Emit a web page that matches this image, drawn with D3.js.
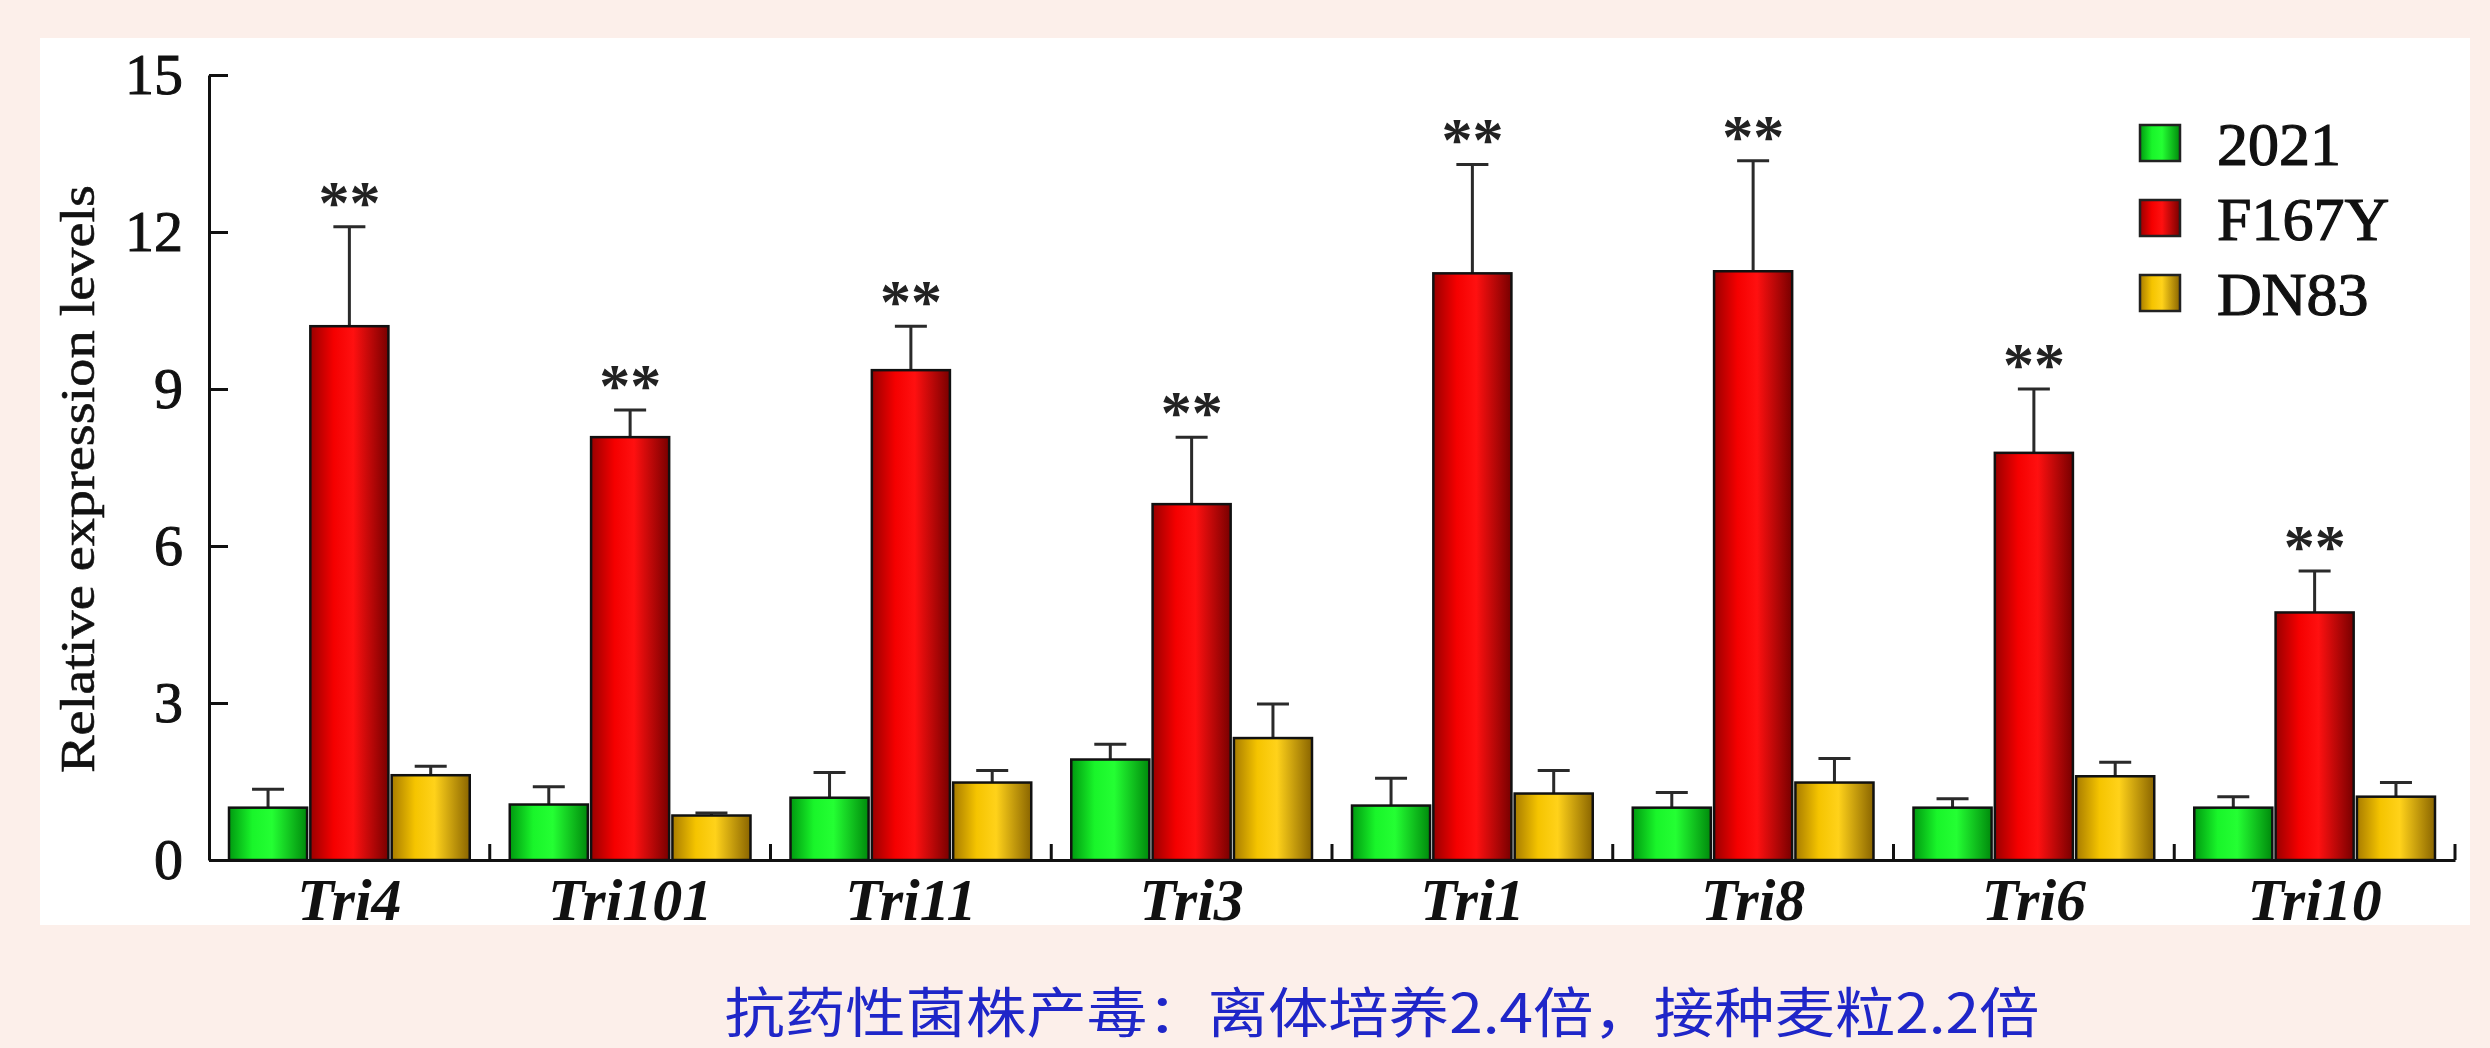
<!DOCTYPE html>
<html>
<head>
<meta charset="utf-8">
<script src="https://cdn.jsdelivr.net/npm/d3@7"></script>
<style>
  html, body { margin: 0; padding: 0; background: #fcefea; }
  svg { display: block; }
</style>
</head>
<body>
<div id="chart"></div>
<script>
// genes on the x axis, strains in the legend
var genes = ["Tri4", "Tri101", "Tri11", "Tri3", "Tri1", "Tri8", "Tri6", "Tri10"];
var strains = ["2021", "F167Y", "DN83"];

// mean relative expression, one array per strain
var val2021  = [1.0, 1.06, 1.19, 1.92, 1.04, 1.0, 1.0, 1.0];
var valF167Y = [10.2, 8.08, 9.36, 6.8, 11.21, 11.25, 7.78, 4.73];
var valDN83  = [1.62, 0.85, 1.48, 2.33, 1.27, 1.48, 1.6, 1.21];

// top of the error bar (mean + sd)
var err2021  = [1.35, 1.4, 1.67, 2.21, 1.56, 1.29, 1.17, 1.21];
var errF167Y = [12.1, 8.6, 10.2, 8.08, 13.29, 13.36, 9.0, 5.52];
var errDN83  = [1.79, 0.9, 1.71, 2.98, 1.71, 1.94, 1.87, 1.48];

// significance marks over F167Y
var stars = ["**", "**", "**", "**", "**", "**", "**", "**"];
var yTicks = [0, 3, 6, 9, 12, 15];
var caption = "抗药性菌株产毒：离体培养2.4倍，接种麦粒2.2倍";

var W = 2490, H = 1048;
var values = [val2021, valF167Y, valDN83];
var errs = [err2021, errF167Y, errDN83];

var svg = d3.select("#chart").append("svg")
    .attr("width", W)
    .attr("height", H);

var defs = svg.append("defs");
var shades = [
    ["#009a10", "#19f52a", "#24ff33", "#008a0c"],
    ["#9a0000", "#f50000", "#ff1010", "#780000"],
    ["#a87c00", "#f5c400", "#ffd21a", "#8a6500"]
];
shades.forEach(function(s, i) {
    var g = defs.append("linearGradient")
        .attr("id", "grad" + i)
        .attr("x1", "0%").attr("x2", "100%").attr("y1", "0%").attr("y2", "0%");
    g.append("stop").attr("offset", "0%").attr("stop-color", s[0]);
    g.append("stop").attr("offset", "30%").attr("stop-color", s[1]);
    g.append("stop").attr("offset", "55%").attr("stop-color", s[2]);
    g.append("stop").attr("offset", "100%").attr("stop-color", s[3]);
});

// white plot panel
svg.append("rect")
    .attr("x", 40).attr("y", 38)
    .attr("width", 2430).attr("height", 887)
    .attr("fill", "#ffffff");

var x0 = d3.scaleBand()
    .domain(genes)
    .range([209, 2455]);

var x1 = d3.scaleBand()
    .domain(strains)
    .range([0, x0.bandwidth()])
    .paddingInner(0.04)
    .paddingOuter(0.246);

var y = d3.scaleLinear()
    .domain([0, 15])
    .range([860, 75]);

var color = d3.scaleOrdinal()
    .domain(strains)
    .range(["url(#grad0)", "url(#grad1)", "url(#grad2)"]);

// flatten to one record per bar
var bars = [];
genes.forEach(function(g, gi) {
    strains.forEach(function(s, si) {
        bars.push({gene: g, strain: s, value: values[si][gi], top: errs[si][gi], star: si === 1 ? stars[gi] : null});
    });
});

var groups = svg.append("g");

// error bars (drawn before bars so the stem starts at the bar top)
groups.selectAll(".err")
    .data(bars)
    .enter()
    .append("path")
    .attr("class", "err")
    .attr("fill", "none")
    .attr("stroke", "#2a2a2a")
    .attr("stroke-width", 3)
    .attr("d", function(d) {
        var cx = x0(d.gene) + x1(d.strain) + x1.bandwidth() / 2;
        return "M" + cx + "," + y(d.value) + "V" + y(d.top) +
               "M" + (cx - 16) + "," + y(d.top) + "H" + (cx + 16);
    });

groups.selectAll(".bar")
    .data(bars)
    .enter()
    .append("rect")
    .attr("class", "bar")
    .attr("x", function(d) { return x0(d.gene) + x1(d.strain); })
    .attr("y", function(d) { return y(d.value); })
    .attr("width", x1.bandwidth())
    .attr("height", function(d) { return y(0) - y(d.value); })
    .attr("fill", function(d) { return color(d.strain); })
    .attr("stroke", "#111")
    .attr("stroke-width", 2.5);

groups.selectAll(".star")
    .data(bars.filter(function(d) { return d.star; }))
    .enter()
    .append("text")
    .attr("class", "star")
    .attr("x", function(d) { return x0(d.gene) + x1(d.strain) + x1.bandwidth() / 2; })
    .attr("y", function(d) { return y(d.top) - 4; })
    .attr("text-anchor", "middle")
    .attr("font-family", "Liberation Serif, serif")
    .attr("font-weight", "bold")
    .attr("font-size", 62)
    .attr("fill", "#222")
    .text(function(d) { return d.star; });

// y axis, ticks point inward
var yAxis = svg.append("g")
    .attr("transform", "translate(209,0)")
    .call(d3.axisLeft(y).tickValues(yTicks).tickSizeInner(-19).tickSizeOuter(0).tickPadding(26));
yAxis.select(".domain").attr("stroke", "#111").attr("stroke-width", 3);
yAxis.selectAll(".tick line").attr("stroke", "#111").attr("stroke-width", 3);
yAxis.selectAll(".tick text")
    .attr("font-family", "Liberation Serif, serif")
    .attr("font-size", 58)
    .attr("fill", "#111")
    .attr("stroke", "#111")
    .attr("stroke-width", 1);

// x axis with gene labels
var xAxis = svg.append("g")
    .attr("transform", "translate(0,860)")
    .call(d3.axisBottom(x0).tickSize(0).tickPadding(17));
xAxis.select(".domain").attr("stroke", "#111").attr("stroke-width", 3);
xAxis.selectAll(".tick text")
    .attr("font-family", "Liberation Serif, serif")
    .attr("font-style", "italic")
    .attr("font-weight", "bold")
    .attr("font-size", 60)
    .attr("fill", "#111");

// small separators between gene groups
var seps = genes.slice(1).map(function(g) { return x0(g); }).concat([x0.range()[1]]);
svg.append("g").selectAll("line")
    .data(seps)
    .enter()
    .append("line")
    .attr("x1", function(d) { return d; })
    .attr("x2", function(d) { return d; })
    .attr("y1", 860)
    .attr("y2", 844)
    .attr("stroke", "#111")
    .attr("stroke-width", 3);

// y title
svg.append("text")
    .attr("transform", "translate(94,479) rotate(-90)")
    .attr("text-anchor", "middle")
    .attr("font-family", "Liberation Serif, serif")
    .attr("font-size", 48)
    .attr("textLength", 588)
    .attr("lengthAdjust", "spacingAndGlyphs")
    .attr("fill", "#111")
    .attr("stroke", "#111")
    .attr("stroke-width", 0.6)
    .text("Relative expression levels");

// legend
var legend = svg.append("g").selectAll("g")
    .data(strains)
    .enter()
    .append("g")
    .attr("transform", function(d, i) { return "translate(2140," + (143 + i * 75) + ")"; });
legend.append("rect")
    .attr("x", 0).attr("y", -18)
    .attr("width", 40).attr("height", 36)
    .attr("fill", function(d) { return color(d); })
    .attr("stroke", "#222")
    .attr("stroke-width", 2.5);
legend.append("text")
    .attr("x", 77)
    .attr("dy", "0.35em")
    .attr("font-family", "Liberation Serif, serif")
    .attr("font-size", 62)
    .attr("fill", "#111")
    .attr("stroke", "#111")
    .attr("stroke-width", 1.2)
    .text(function(d) { return d; });

// caption under the chart
svg.append("text")
    .attr("x", 1382)
    .attr("y", 1033)
    .attr("text-anchor", "middle")
    .attr("font-family", "Noto Sans CJK SC, sans-serif")
    .attr("font-size", 54)
    .attr("textLength", 1315)
    .attr("lengthAdjust", "spacingAndGlyphs")
    .attr("fill", "#1f26c8")
    .text(caption);
</script>
</body>
</html>
